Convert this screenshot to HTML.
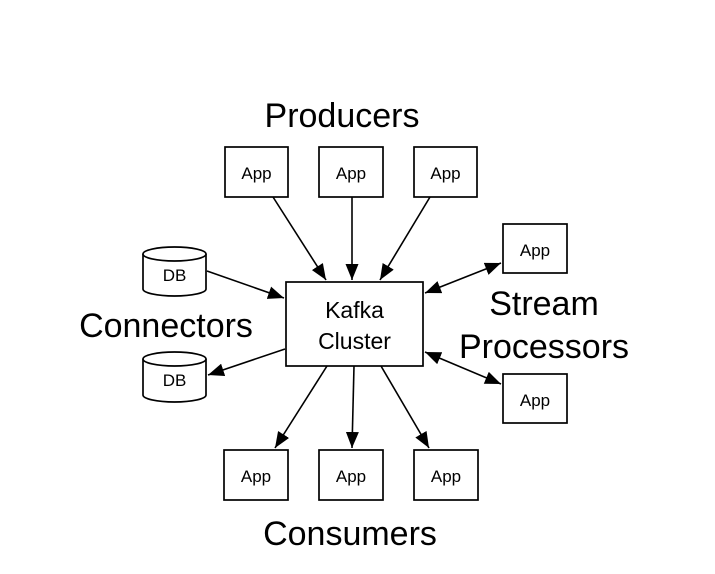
<!DOCTYPE html>
<html><head><meta charset="utf-8"><style>
html,body{margin:0;padding:0;background:#fff;}
svg{display:block;}
text{font-family:"Liberation Sans",Arial,sans-serif;fill:#000;}
</style></head><body>
<svg width="715" height="574" viewBox="0 0 715 574" xmlns="http://www.w3.org/2000/svg">
<defs>
<marker id="a" viewBox="0 0 10 10" refX="10" refY="5" markerWidth="16" markerHeight="13" markerUnits="userSpaceOnUse" orient="auto-start-reverse" preserveAspectRatio="none">
<path d="M0,0 L10,5 L0,10 z" fill="#000"/>
</marker>
</defs>
<g fill="#fff" stroke="#000" stroke-width="1.7">
<rect x="225" y="147" width="63" height="50"/>
<rect x="319" y="147" width="64" height="50"/>
<rect x="414" y="147" width="63" height="50"/>
<rect x="286" y="282" width="137" height="84"/>
<rect x="503" y="224" width="64" height="49"/>
<rect x="503" y="374" width="64" height="49"/>
<rect x="224" y="450" width="64" height="50"/>
<rect x="319" y="450" width="64" height="50"/>
<rect x="414" y="450" width="64" height="50"/>
<path d="M143,254 v35 a31.5,7 0 0 0 63,0 v-35"/>
<ellipse cx="174.5" cy="254" rx="31.5" ry="7"/>
<path d="M143,359 v36 a31.5,7 0 0 0 63,0 v-36"/>
<ellipse cx="174.5" cy="359" rx="31.5" ry="7"/>
</g>
<g stroke="#000" stroke-width="1.6" fill="none" marker-end="url(#a)">
<line x1="273" y1="197" x2="326" y2="280"/>
<line x1="352" y1="197" x2="352" y2="280"/>
<line x1="430" y1="197" x2="380" y2="280"/>
<line x1="207" y1="271" x2="284" y2="298"/>
<line x1="285" y1="349" x2="208" y2="375"/>
<line x1="327" y1="366" x2="275" y2="448"/>
<line x1="354" y1="366" x2="352" y2="448"/>
<line x1="381" y1="366" x2="429" y2="448"/>
<line x1="425" y1="293" x2="501" y2="263" marker-start="url(#a)"/>
<line x1="425" y1="352" x2="501" y2="384" marker-start="url(#a)"/>
</g>
<g font-size="17" text-anchor="middle">
<text x="256.5" y="179">App</text>
<text x="351" y="179">App</text>
<text x="445.5" y="179">App</text>
<text x="535" y="256">App</text>
<text x="535" y="406">App</text>
<text x="256" y="482">App</text>
<text x="351" y="482">App</text>
<text x="446" y="482">App</text>
<text x="174.5" y="281">DB</text>
<text x="174.5" y="386">DB</text>
</g>
<g font-size="23" text-anchor="middle">
<text x="354.5" y="318">Kafka</text>
<text x="354.5" y="349">Cluster</text>
</g>
<g font-size="34" text-anchor="middle">
<text x="342" y="127">Producers</text>
<text x="166" y="337">Connectors</text>
<text x="544" y="315">Stream</text>
<text x="544" y="358">Processors</text>
<text x="350" y="545">Consumers</text>
</g>
</svg>
</body></html>
